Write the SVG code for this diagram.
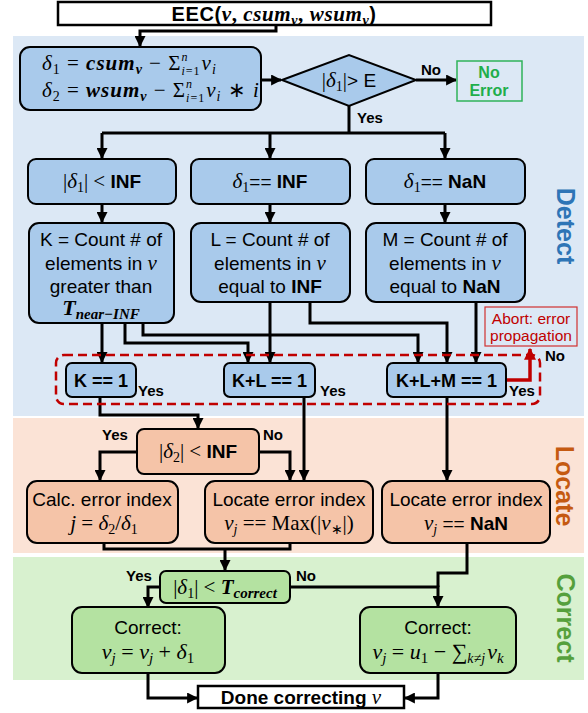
<svg xmlns="http://www.w3.org/2000/svg" width="588" height="713" viewBox="0 0 588 713">
<defs>
<style>
.bx{stroke:#000;stroke-width:2;}
.blue{fill:#a9caeb;}
.peach{fill:#f5c4a8;}
.green{fill:#b4e2a1;}
.s{font-family:"Liberation Sans",Arial,sans-serif;}
.sb{font-family:"Liberation Sans",Arial,sans-serif;font-weight:bold;}
.m{font-family:"Liberation Serif","Times New Roman",serif;}
.i{font-style:italic;}
.bi{font-style:italic;font-weight:bold;}
.c{stroke:#000;stroke-width:3;fill:none;}
.ca{stroke:#000;stroke-width:3;fill:none;marker-end:url(#ah);}
.lbl{font-family:"Liberation Sans",Arial,sans-serif;font-weight:bold;font-size:15px;fill:#000;}
</style>
<marker id="ah" viewBox="0 0 10 10" refX="9" refY="5" markerWidth="11" markerHeight="11" markerUnits="userSpaceOnUse" orient="auto"><path d="M0,0 L10,5 L0,10 z" fill="#000"/></marker>
<marker id="ahr" viewBox="0 0 10 10" refX="9" refY="5" markerWidth="12" markerHeight="12" markerUnits="userSpaceOnUse" orient="auto"><path d="M0,0 L10,5 L0,10 z" fill="#c00000"/></marker>
</defs>

<g id="panels">
<rect x="13" y="36" width="571" height="380" fill="#dce8f5"/>
<rect x="13" y="418" width="571" height="135" fill="#fbe3d6"/>
<rect x="13" y="557" width="571" height="123" fill="#d8f1cf"/>
<text class="sb" font-size="25" fill="#2e75b6" text-anchor="middle" transform="translate(557,226) rotate(90)">Detect</text>
<text class="sb" font-size="25" fill="#c55a11" text-anchor="middle" transform="translate(556,486) rotate(90)">Locate</text>
<text class="sb" font-size="25" fill="#55a03c" text-anchor="middle" transform="translate(557,618) rotate(90)">Correct</text>
</g>

<g id="connectors">
<polyline class="ca" points="276,25 276,31 140,31 140,46"/>
<line class="ca" x1="261" y1="80" x2="281" y2="80"/>
<line class="ca" x1="416" y1="80" x2="456" y2="80"/>
<polyline class="c" points="349,106 349,133"/>
<polyline class="ca" points="102,133 102,158"/>
<polyline class="c" points="102,133 445,133"/>
<polyline class="ca" points="270,133 270,158"/>
<polyline class="ca" points="445,133 445,158"/>
<line class="ca" x1="102" y1="204" x2="102" y2="222"/>
<line class="ca" x1="270" y1="204" x2="270" y2="222"/>
<line class="ca" x1="445" y1="204" x2="445" y2="222"/>
<line class="ca" x1="102" y1="323" x2="102" y2="362"/>
<polyline class="ca" points="125,323 125,343 248,343 248,362"/>
<polyline class="ca" points="143,323 143,335 418,335 418,362"/>
<line class="ca" x1="270" y1="302" x2="270" y2="362"/>
<polyline class="ca" points="310,302 310,323 447,323 447,362"/>
<line class="ca" x1="476" y1="302" x2="476" y2="362"/>
<polyline points="506,380 530,380 530,349" fill="none" stroke="#c00000" stroke-width="3.5" marker-end="url(#ahr)"/>
<polyline class="ca" points="100,397 100,415 198,415 198,428"/>
<polyline class="ca" points="137,452 100,452 100,480"/>
<polyline class="ca" points="259,452 290,452 290,480"/>
<line class="ca" x1="304" y1="397" x2="304" y2="480"/>
<line class="ca" x1="447" y1="397" x2="447" y2="480"/>
<polyline class="c" points="104,543 104,549 290,549 290,543"/>
<line class="ca" x1="225" y1="549" x2="225" y2="570"/>
<polyline class="ca" points="160,587 148,587 148,607"/>
<polyline class="c" points="467,543 467,573 438,573 438,587"/>
<polyline class="ca" points="290,587 438,587 438,606"/>
<polyline class="ca" points="148,673 148,698 197,698"/>
<polyline class="ca" points="438,673 438,698 405,698"/>
<text class="lbl" x="421" y="75">No</text>
<text class="lbl" x="357" y="123">Yes</text>
<text class="lbl" x="138" y="396">Yes</text>
<text class="lbl" x="320" y="396">Yes</text>
<text class="lbl" x="509" y="396">Yes</text>
<text class="lbl" x="545" y="361" fill="#c00000" font-size="16">No</text>
<text class="lbl" x="102" y="440">Yes</text>
<text class="lbl" x="263" y="440">No</text>
<text class="lbl" x="126" y="581">Yes</text>
<text class="lbl" x="296" y="581">No</text>
</g>

<g id="eec">
<rect x="58" y="2" width="433" height="23" fill="#fff" stroke="#000" stroke-width="2.5"/>
<text x="274" y="21" text-anchor="middle" font-size="20" letter-spacing="0.6"><tspan class="sb">EEC(</tspan><tspan class="m bi" font-size="21">v</tspan><tspan class="m" font-weight="bold" font-size="21">, </tspan><tspan class="m bi" font-size="21">csum</tspan><tspan class="m bi" font-size="14" dy="4">v</tspan><tspan class="m" font-weight="bold" font-size="21" dy="-4">, </tspan><tspan class="m bi" font-size="21">wsum</tspan><tspan class="m bi" font-size="14" dy="4">v</tspan><tspan class="sb" dy="-4">)</tspan></text>
</g>

<g id="deltas">
<rect class="bx blue" x="20" y="47" width="241" height="63" rx="10"/>
<text class="m" x="42" y="70" font-size="21" letter-spacing="1"><tspan class="i">δ</tspan><tspan font-size="14" dy="4">1</tspan><tspan dy="-4"> = </tspan><tspan class="bi">csum</tspan><tspan class="bi" font-size="14" dy="4">v</tspan><tspan dy="-4"> − Σ</tspan><tspan class="i" font-size="12" dy="-9">n</tspan><tspan class="i" font-size="12" dx="-7" dy="14">i</tspan><tspan font-size="12">=1</tspan><tspan class="i" dy="-5" dx="1">v</tspan><tspan class="i" font-size="14" dy="4">i</tspan></text>
<text class="m" x="42" y="97" font-size="21" letter-spacing="1"><tspan class="i">δ</tspan><tspan font-size="14" dy="4">2</tspan><tspan dy="-4"> = </tspan><tspan class="bi">wsum</tspan><tspan class="bi" font-size="14" dy="4">v</tspan><tspan dy="-4"> − Σ</tspan><tspan class="i" font-size="12" dy="-9">n</tspan><tspan class="i" font-size="12" dx="-7" dy="14">i</tspan><tspan font-size="12">=1</tspan><tspan class="i" dy="-5" dx="1">v</tspan><tspan class="i" font-size="14" dy="4">i</tspan><tspan dy="-4"> ∗ </tspan><tspan class="i">i</tspan></text>
</g>

<g id="check-e">
<polygon class="bx blue" points="282,80 349,55 416,80 349,106"/>
<text x="349" y="87" text-anchor="middle" font-size="19"><tspan class="m" font-size="21">|</tspan><tspan class="m i" font-size="21">δ</tspan><tspan class="m" font-size="14" dy="4">1</tspan><tspan class="m" font-size="21" dy="-4">|</tspan><tspan class="s">&gt; E</tspan></text>
</g>

<g id="no-error">
<rect x="457" y="61" width="65" height="40" fill="none" stroke="#2fb35a" stroke-width="1.5"/>
<text class="sb" x="489" y="78" text-anchor="middle" font-size="16" fill="#1fae4b">No</text>
<text class="sb" x="489" y="96" text-anchor="middle" font-size="16" fill="#1fae4b">Error</text>
</g>

<g id="lt-inf">
<rect class="bx blue" x="28" y="159" width="148" height="45" rx="8"/>
<text x="102" y="188" text-anchor="middle" font-size="19"><tspan class="m" font-size="21">|</tspan><tspan class="m i" font-size="21">δ</tspan><tspan class="m" font-size="14" dy="4">1</tspan><tspan class="m" font-size="21" dy="-4">| &lt; </tspan><tspan class="sb">INF</tspan></text>
</g>
<g id="eq-inf">
<rect class="bx blue" x="191" y="159" width="159" height="45" rx="8"/>
<text x="270" y="188" text-anchor="middle" font-size="19"><tspan class="m i" font-size="21">δ</tspan><tspan class="m" font-size="14" dy="4">1</tspan><tspan class="s" dy="-4">== </tspan><tspan class="sb">INF</tspan></text>
</g>
<g id="eq-nan">
<rect class="bx blue" x="366" y="159" width="159" height="45" rx="8"/>
<text x="445" y="188" text-anchor="middle" font-size="19"><tspan class="m i" font-size="21">δ</tspan><tspan class="m" font-size="14" dy="4">1</tspan><tspan class="s" dy="-4">== </tspan><tspan class="sb">NaN</tspan></text>
</g>

<g id="count-k">
<rect class="bx blue" x="29" y="223" width="145" height="100" rx="10"/>
<text class="s" x="101" y="246" text-anchor="middle" font-size="19">K = Count # of</text>
<text x="101" y="270" text-anchor="middle" font-size="19"><tspan class="s">elements in </tspan><tspan class="m i" font-size="21">v</tspan></text>
<text class="s" x="101" y="293" text-anchor="middle" font-size="19">greater than</text>
<text x="101" y="315" text-anchor="middle" font-size="22"><tspan class="m bi">T</tspan><tspan class="m bi" font-size="15" dy="4">near−INF</tspan></text>
</g>
<g id="count-l">
<rect class="bx blue" x="191" y="223" width="159" height="79" rx="10"/>
<text class="s" x="270" y="246" text-anchor="middle" font-size="19">L = Count # of</text>
<text x="270" y="270" text-anchor="middle" font-size="19"><tspan class="s">elements in </tspan><tspan class="m i" font-size="21">v</tspan></text>
<text x="270" y="293" text-anchor="middle" font-size="19"><tspan class="s">equal to </tspan><tspan class="sb">INF</tspan></text>
</g>
<g id="count-m">
<rect class="bx blue" x="366" y="223" width="159" height="79" rx="10"/>
<text class="s" x="445" y="246" text-anchor="middle" font-size="19">M = Count # of</text>
<text x="445" y="270" text-anchor="middle" font-size="19"><tspan class="s">elements in </tspan><tspan class="m i" font-size="21">v</tspan></text>
<text x="445" y="293" text-anchor="middle" font-size="19"><tspan class="s">equal to </tspan><tspan class="sb">NaN</tspan></text>
</g>

<g id="abort">
<rect x="485" y="307" width="92" height="39" fill="none" stroke="#d03030" stroke-width="1.2"/>
<text class="s" x="531" y="324" text-anchor="middle" font-size="15.5" fill="#c00000">Abort: error</text>
<text class="s" x="531" y="341" text-anchor="middle" font-size="15.5" fill="#c00000">propagation</text>
</g>

<g id="checks">
<rect x="56" y="355" width="484" height="49" rx="8" fill="none" stroke="#c00000" stroke-width="2.5" stroke-dasharray="9,5"/>
</g>
<g id="k1">
<rect class="bx blue" x="66" y="363" width="70" height="34" rx="6"/>
<text class="sb" x="101" y="387" text-anchor="middle" font-size="18">K == 1</text>
</g>
<g id="kl1">
<rect class="bx blue" x="224" y="363" width="91" height="34" rx="6"/>
<text class="sb" x="269.5" y="387" text-anchor="middle" font-size="18">K+L == 1</text>
</g>
<g id="klm1">
<rect class="bx blue" x="387" y="363" width="119" height="34" rx="6"/>
<text class="sb" x="446.5" y="387" text-anchor="middle" font-size="18">K+L+M == 1</text>
</g>

<g id="d2-inf">
<rect class="bx peach" x="137" y="429" width="122" height="45" rx="7"/>
<text x="198" y="458" text-anchor="middle" font-size="19"><tspan class="m" font-size="21">|</tspan><tspan class="m i" font-size="21">δ</tspan><tspan class="m" font-size="14" dy="4">2</tspan><tspan class="m" font-size="21" dy="-4">| &lt; </tspan><tspan class="sb">INF</tspan></text>
</g>
<g id="calc">
<rect class="bx peach" x="27" y="481" width="151" height="62" rx="10"/>
<text class="s" x="102" y="506" text-anchor="middle" font-size="19">Calc. error index</text>
<text class="m" x="104" y="530" text-anchor="middle" font-size="21"><tspan class="i">j</tspan><tspan>  = </tspan><tspan class="i">δ</tspan><tspan font-size="14" dy="4">2</tspan><tspan dy="-4">/</tspan><tspan class="i">δ</tspan><tspan font-size="14" dy="4">1</tspan></text>
</g>
<g id="loc-max">
<rect class="bx peach" x="205" y="481" width="168" height="62" rx="10"/>
<text class="s" x="289" y="506" text-anchor="middle" font-size="19">Locate error index</text>
<text class="m" x="289" y="530" text-anchor="middle" font-size="21"><tspan class="i">v</tspan><tspan class="i" font-size="14" dy="4">j</tspan><tspan dy="-4"> == Max(|</tspan><tspan class="i">v</tspan><tspan font-size="14" dy="4">∗</tspan><tspan dy="-4">|)</tspan></text>
</g>
<g id="loc-nan">
<rect class="bx peach" x="382" y="481" width="168" height="62" rx="10"/>
<text class="s" x="466" y="506" text-anchor="middle" font-size="19">Locate error index</text>
<text x="466" y="530" text-anchor="middle" font-size="19"><tspan class="m i" font-size="21">v</tspan><tspan class="m i" font-size="14" dy="4">j</tspan><tspan class="s" dy="-4"> == </tspan><tspan class="sb">NaN</tspan></text>
</g>

<g id="t-correct">
<rect class="bx green" x="160" y="571" width="130" height="32" rx="6"/>
<text class="m" x="225" y="594" text-anchor="middle" font-size="21"><tspan>|</tspan><tspan class="i">δ</tspan><tspan font-size="14" dy="4">1</tspan><tspan dy="-4">| &lt;  </tspan><tspan class="bi">T</tspan><tspan class="bi" font-size="15" dy="4">correct</tspan></text>
</g>
<g id="correct-1">
<rect class="bx green" x="72" y="607" width="153" height="66" rx="10"/>
<text class="s" x="148" y="634" text-anchor="middle" font-size="19">Correct:</text>
<text class="m" x="148" y="659" text-anchor="middle" font-size="22"><tspan class="i">v</tspan><tspan class="i" font-size="15" dy="4">j</tspan><tspan dy="-4"> = </tspan><tspan class="i">v</tspan><tspan class="i" font-size="15" dy="4">j</tspan><tspan dy="-4"> + </tspan><tspan class="i">δ</tspan><tspan font-size="15" dy="4">1</tspan></text>
</g>
<g id="correct-2">
<rect class="bx green" x="360" y="607" width="156" height="66" rx="10"/>
<text class="s" x="438" y="634" text-anchor="middle" font-size="19">Correct:</text>
<text class="m" x="438" y="659" text-anchor="middle" font-size="22"><tspan class="i">v</tspan><tspan class="i" font-size="15" dy="4">j</tspan><tspan dy="-4"> = </tspan><tspan class="i">u</tspan><tspan font-size="15" dy="4">1</tspan><tspan dy="-4"> − ∑</tspan><tspan class="i" font-size="14" dy="4">k≠j</tspan><tspan class="i" dy="-4" dx="2">v</tspan><tspan class="i" font-size="15" dy="4">k</tspan></text>
</g>

<g id="done">
<rect x="198" y="686" width="206" height="22" fill="#fff" stroke="#000" stroke-width="2.5"/>
<text x="301" y="704" text-anchor="middle" font-size="19"><tspan class="sb">Done correcting </tspan><tspan class="m i" font-size="21">v</tspan></text>
</g>
</svg>
